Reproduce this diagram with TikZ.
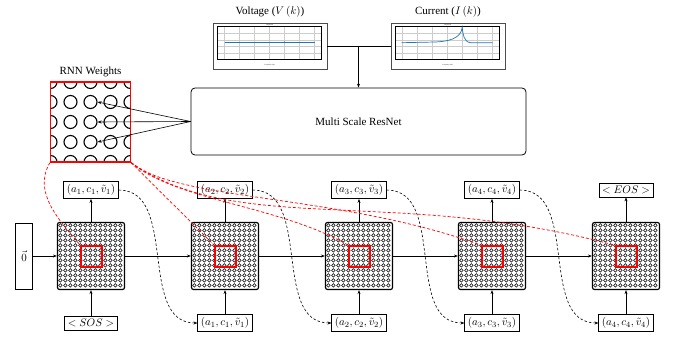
\documentclass[tikz,border=0pt]{standalone}
\usepackage{fontspec}
\setmainfont{Liberation Serif}
\usetikzlibrary{positioning,arrows.meta}
\definecolor{plotblue}{RGB}{31,119,180}

\begin{document}
\begin{tikzpicture}[
  x=1pt, y=1pt,
  font=\fontsize{11}{13}\selectfont,
  seqbox/.style={draw, line width=0.8pt, inner sep=3pt, fill=white},
  cellblock/.style={draw, line width=1.2pt, rounded corners=2pt, minimum size=67pt, inner sep=0pt},
  hotspot/.style={draw=red, line width=1.4pt, minimum size=21pt, inner sep=0pt},
  weight/.style={circle, draw, line width=1.1pt, minimum size=13pt, inner sep=0pt},
  plotframe/.style={draw=black!70, line width=0.6pt, minimum width=114pt, minimum height=46pt, inner sep=0pt},
  plotgrid/.style={black!20, line width=0.5pt},
  plotline/.style={plotblue, line width=0.7pt},
  tinytext/.style={font=\fontsize{1.6}{2}\selectfont, inner sep=0pt},
  arrow/.style={-{Stealth[length=4pt,width=3pt]}, line width=0.6pt},
  feedback/.style={arrow, dash pattern=on 2.5pt off 2pt},
  weightlink/.style={red, line width=0.7pt, dash pattern=on 3pt off 2pt}
]
  \useasboundingbox (0,0) rectangle (677,-339);

  % input spectra
  \node[plotframe] (volt) at (270,-46) {};
  \node[plotframe] (curr) at (448,-46) {};
  \node[above=2pt of volt] (voltlabel) {Voltage ($V\left(k\right)$)};
  \node[above=2pt of curr] (currlabel) {Current ($I\left(k\right)$)};
  \foreach \p in {volt,curr} {
    \begin{scope}[shift={(\p.north west)}]
      \foreach \gx in {12,27,...,102} \draw[plotgrid] (\gx,-4) -- (\gx,-37);
      \foreach \gy in {-10.6,-17.2,-23.8,-30.4} \draw[plotgrid] (5,\gy) -- (109,\gy);
      \draw[line width=0.7pt] (5,-4) rectangle (109,-37);
      \node[tinytext] at (57,-2.1) {Amplitude};
      \node[tinytext] at (57,-42.5) {Frequency (Hz)};
    \end{scope}
  }
  \begin{scope}[shift={(volt.north west)}]
    \draw[plotline] (12,-20) -- (102,-20);
    \fill[plotblue] (72,-19.6) circle[radius=0.9pt];
  \end{scope}
  \begin{scope}[shift={(curr.north west)}]
    \draw[plotline] (11,-20) -- (45,-19.3) to[out=3,in=-95] (71.5,-4.5)
      to[out=-85,in=175] (80,-20) -- (102,-20);
  \end{scope}

  % feature extractor
  \node[draw, line width=0.8pt, rounded corners=4pt, minimum width=335pt, minimum height=67pt]
    (resnet) at (358.5,-121.5) {Multi Scale ResNet};
  \coordinate (junc) at (resnet.north |- volt.east);
  \draw[line width=0.7pt] (volt.east) -- (curr.west);
  \draw[arrow] (junc) -- (resnet.north);

  % rnn weights
  \begin{scope}
    \clip (50.5,-82) rectangle (130.5,-162);
    \foreach \c in {0,...,4}
      \foreach \r in {0,...,4}
        \node[weight] (w-\c-\r) at (50.5+20*\c,-82-20*\r) {};
  \end{scope}
  \node[draw=red, line width=1.2pt, minimum width=80pt, minimum height=80pt, inner sep=0pt]
    (rnnw) at (90.5,-122) {};
  \node[above=1pt of rnnw] (rnnlabel) {RNN Weights};
  \foreach \r in {1,2,3} \draw[arrow] (resnet.west) -- (w-2-\r.east);

  % unrolled cells
  \foreach \i/\x in {1/91,2/225,3/359,4/492,5/626} {
    \node[cellblock] (blk\i) at (\x,-256) {};
    \foreach \r in {0,...,12}
      \foreach \c in {0,...,12}
        \draw[line width=0.55pt] ([shift={(3.5+5*\c,-3.5-5*\r)}]blk\i.north west) circle[radius=1.8pt];
  }
  \node[draw, line width=0.8pt, minimum width=17pt, minimum height=66pt, inner sep=0pt] (zero) at (24,-256) {$\vec{0}$};

  \node[seqbox] (out1) at (91,-190) {$(a_1, c_1, \tilde{v}_1)$};
  \node[seqbox] (out2) at (225,-190) {$(a_2, c_2, \tilde{v}_2)$};
  \node[seqbox] (out3) at (359,-190) {$(a_3, c_3, \tilde{v}_3)$};
  \node[seqbox] (out4) at (492,-190) {$(a_4, c_4, \tilde{v}_4)$};
  \node[seqbox] (out5) at (626,-190) {$<EOS>$};

  \node[seqbox] (in1) at (91,-323) {$<SOS>$};
  \node[seqbox] (in2) at (225,-323) {$(a_1, c_1, \tilde{v}_1)$};
  \node[seqbox] (in3) at (359,-323) {$(a_2, c_2, \tilde{v}_2)$};
  \node[seqbox] (in4) at (492,-323) {$(a_3, c_3, \tilde{v}_3)$};
  \node[seqbox] (in5) at (626,-323) {$(a_4, c_4, \tilde{v}_4)$};

  \draw[arrow] (zero) -- (blk1);
  \foreach \i in {1,...,5} {
    \draw[arrow] (in\i) -- (blk\i);
    \draw[arrow] (blk\i) -- (out\i);
  }
  \foreach \i/\j in {1/2,2/3,3/4,4/5} {
    \draw[arrow] (blk\i) -- (blk\j);
    \draw[feedback] (out\i.east) to[out=0,in=180] (in\j.west);
  }

  % active region in each cell
  \foreach \i in {1,...,5}
    \node[hotspot] (hot\i) at ([xshift=0.5pt,yshift=-0.5pt]blk\i.center) {};

  % shared weights
  \draw[weightlink] (rnnw.south west) to[out=-120,in=130] (hot1.north west);
  \draw[weightlink] (rnnw.south east) .. controls +(-45:30) and +(135:30) .. (hot2.north west);
  \draw[weightlink] (rnnw.south east) .. controls +(-40:60) and +(150:80) .. (hot3.north west);
  \draw[weightlink] (rnnw.south east) .. controls +(-40:60) and +(160:150) .. (hot4.north west);
  \draw[weightlink] (rnnw.south east) .. controls +(-35:130) and +(165:230) .. (hot5.north west);
\end{tikzpicture}
\end{document}
